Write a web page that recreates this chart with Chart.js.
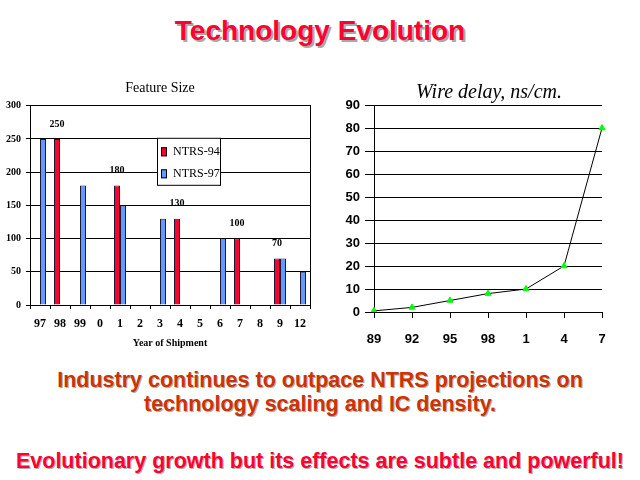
<!DOCTYPE html>
<html>
<head>
<meta charset="utf-8">
<script src="https://cdn.jsdelivr.net/npm/chart.js@4/dist/chart.umd.min.js"></script>
<style>
  body { margin: 0; background: #fff; }
  #page { position: relative; width: 640px; height: 480px; overflow: hidden; background: #fff; }
  .txt { position: absolute; left: 0; width: 640px; text-align: center; font-family: "Liberation Sans", Arial, sans-serif; font-weight: bold; white-space: nowrap; }
  #mainTitle { top: 14px; font-size: 28px; line-height: 33px; color: #FF0033; text-shadow: 2px 2px 0 #A8A8A8; }
  .note { font-size: 21.5px; line-height: 25px; text-shadow: 1px 1px 0 #B0B0B0; }
  #note1 { top: 368px; color: #CC3300; }
  #note2 { top: 392px; color: #CC3300; }
  #note3 { top: 449px; color: #FF0033; }
  .box { position: absolute; }
</style>
</head>
<body>
<div id="page">
  <div id="mainTitle" class="txt">Technology Evolution</div>
  <div class="box" style="left:0;top:75px;width:320px;height:280px;"><canvas id="chart-feature"></canvas></div>
  <div class="box" style="left:340px;top:75px;width:298px;height:280px;"><canvas id="chart-wire"></canvas></div>
  <div id="note1" class="txt note">Industry continues to outpace NTRS projections on</div>
  <div id="note2" class="txt note">technology scaling and IC density.</div>
  <div id="note3" class="txt note">Evolutionary growth but its effects are subtle and powerful!</div>
</div>
<script>
// feature size, nm
const shipYears = ["97", "98", "99", "0", "1", "2", "3", "4", "5", "6", "7", "8", "9", "12"];
const ntrs94 = [null, 250, null, null, 180, null, null, 130, null, null, 100, null, 70, null];
const ntrs97 = [250, null, 180, null, 150, null, 130, null, null, 100, null, null, 70, 50];

// wire delay, ns/cm
const wireYears = ["89", "92", "95", "98", "1", "4", "7"];
const wireDelay = [0.5, 2, 5, 8, 10, 20, 80];

const serif = "'Liberation Serif', 'Times New Roman', serif";
const sans = "'Liberation Sans', Arial, sans-serif";

// value labels above the NTRS-94 bars
const barValueLabels = {
  id: "barValueLabels",
  afterDatasetsDraw(chart) {
    const ctx = chart.ctx;
    const meta = chart.getDatasetMeta(0);
    const values = chart.data.datasets[0].data;
    ctx.save();
    ctx.font = "bold 10px " + serif;
    ctx.fillStyle = "#000";
    ctx.textAlign = "center";
    ctx.textBaseline = "middle";
    meta.data.forEach((bar, i) => {
      if (values[i] === null) return;
      ctx.fillText(String(values[i]), bar.x, bar.y - 15);
    });
    ctx.restore();
  },
};

// boxed legend sitting inside the plot
const insideLegend = {
  id: "insideLegend",
  afterDraw(chart) {
    const ctx = chart.ctx;
    const area = chart.chartArea;
    const x = area.left + 127;
    const y = area.top + 32;
    ctx.save();
    ctx.fillStyle = "#fff";
    ctx.fillRect(x, y, 63, 47);
    ctx.strokeStyle = "#000";
    ctx.lineWidth = 1;
    ctx.strokeRect(x + 0.5, y + 0.5, 63, 47);
    ctx.font = "12px " + serif;
    ctx.textBaseline = "middle";
    chart.data.datasets.forEach((ds, i) => {
      const cy = y + 14 + i * 22;
      ctx.fillStyle = ds.backgroundColor;
      ctx.fillRect(x + 4, cy - 4.5, 6, 9);
      ctx.strokeStyle = "#000";
      ctx.strokeRect(x + 4.5, cy - 4, 5, 8);
      ctx.fillStyle = "#000";
      ctx.fillText(ds.label, x + 16, cy);
    });
    ctx.restore();
  },
};

new Chart(document.getElementById("chart-feature").getContext("2d"), {
  type: "bar",
  data: {
    labels: shipYears,
    datasets: [
      {
        label: "NTRS-94",
        data: ntrs94,
        backgroundColor: "#FF0033",
        borderColor: "#1a1a33",
        borderWidth: 1,
      },
      {
        label: "NTRS-97",
        data: ntrs97,
        backgroundColor: "#6699FF",
        borderColor: "#1a1a33",
        borderWidth: 1,
      },
    ],
  },
  options: {
    responsive: true,
    maintainAspectRatio: false,
    animation: false,
    layout: { padding: 0 },
    datasets: { bar: { categoryPercentage: 0.6, barPercentage: 1.0 } },
    plugins: {
      legend: { display: false },
      tooltip: { enabled: false },
      title: {
        display: true,
        text: "Feature Size",
        color: "#000",
        font: { family: serif, size: 14, weight: "normal" },
        padding: { top: 5, bottom: 9 },
      },
    },
    scales: {
      x: {
        offset: true,
        grid: { offset: true, drawOnChartArea: false, drawTicks: true, tickLength: 4, color: "#000" },
        border: { display: true, color: "#000" },
        ticks: { color: "#000", font: { family: serif, size: 12, weight: "bold" }, padding: 8, maxRotation: 0, autoSkip: false },
        title: {
          display: true,
          text: "Year of Shipment",
          color: "#000",
          font: { family: serif, size: 10, weight: "bold" },
          padding: { top: 0, bottom: 6 },
        },
        afterFit(scale) { scale.height = 50; },
      },
      y: {
        min: 0,
        max: 300,
        ticks: { stepSize: 50, color: "#000", font: { family: serif, size: 10, weight: "bold" }, padding: 5 },
        grid: { color: "#000", tickLength: 4 },
        border: { display: true, color: "#000" },
        afterFit(scale) { scale.width = 30; },
      },
      // right-hand frame of the plot
      yFrame: {
        position: "right",
        min: 0,
        max: 300,
        ticks: { display: false },
        grid: { display: false },
        border: { display: true, color: "#000" },
        afterFit(scale) { scale.width = 10; },
      },
    },
  },
  plugins: [barValueLabels, insideLegend],
});

new Chart(document.getElementById("chart-wire").getContext("2d"), {
  type: "line",
  data: {
    labels: wireYears,
    datasets: [
      {
        label: "Wire delay",
        data: wireDelay,
        borderColor: "#000",
        borderWidth: 1,
        tension: 0,
        pointStyle: "triangle",
        pointRadius: 3.5,
        pointBackgroundColor: "#00FF00",
        pointBorderColor: "#00FF00",
        pointBorderWidth: 1,
      },
    ],
  },
  options: {
    responsive: true,
    maintainAspectRatio: false,
    animation: false,
    layout: { padding: 0 },
    plugins: {
      legend: { display: false },
      tooltip: { enabled: false },
      title: {
        display: true,
        text: "Wire delay, ns/cm.",
        color: "#000",
        font: { family: serif, size: 20, style: "italic", weight: "normal" },
        padding: { top: 6, bottom: 0 },
      },
    },
    scales: {
      x: {
        offset: false,
        grid: { drawOnChartArea: false, drawTicks: true, tickLength: 6, color: "#000" },
        border: { display: true, color: "#000" },
        ticks: { color: "#000", font: { family: sans, size: 13, weight: "bold" }, padding: 14, maxRotation: 0, autoSkip: false },
        afterFit(scale) { scale.height = 43; },
      },
      y: {
        min: 0,
        max: 90,
        ticks: { stepSize: 10, color: "#000", font: { family: sans, size: 13, weight: "bold" }, padding: 5 },
        grid: { color: "#000", tickLength: 9 },
        border: { display: true, color: "#000" },
        afterFit(scale) { scale.width = 34; },
      },
      // empty spacer on the right so the title centres like the original
      ySpace: {
        position: "right",
        min: 0,
        max: 90,
        ticks: { display: false },
        grid: { display: false },
        border: { display: false },
        afterFit(scale) { scale.width = 36; },
      },
    },
  },
});
</script>
</body>
</html>
